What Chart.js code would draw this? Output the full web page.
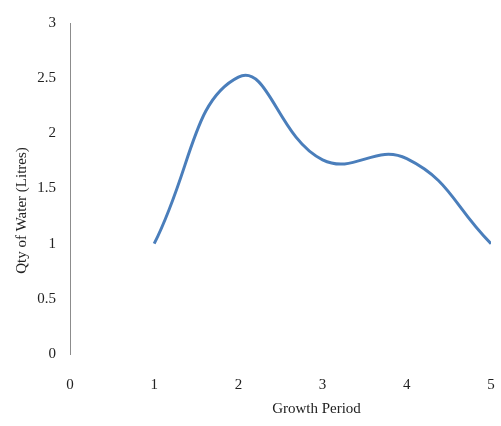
<!DOCTYPE html>
<html>
<head>
<meta charset="utf-8">
<script src="https://cdn.jsdelivr.net/npm/chart.js@4.4.0/dist/chart.umd.min.js"></script>
<style>
  html, body { margin: 0; padding: 0; background: #fff; overflow: hidden; }
  canvas { display: block; }
</style>
</head>
<body>
<canvas id="waterChart" width="501" height="426"></canvas>
<script>
// Data
const growthPeriods = [1, 2, 3, 4, 5];
const waterLitres = [1, 2.51, 1.76, 1.77, 1];
const xTitle = 'Growth Period';
const yTitle = 'Qty of Water (Litres)';

const points = growthPeriods.map((p, i) => ({ x: p, y: waterLitres[i] }));

const serif = '"Liberation Serif", "Times New Roman", serif';

// axis titles drawn by hand, Excel puts them a bit off-centre
const axisTitles = {
    id: 'axisTitles',
    afterDraw(chart) {
        const ctx = chart.ctx;
        const area = chart.chartArea;
        ctx.save();
        ctx.fillStyle = '#222';
        ctx.font = '15px ' + serif;
        ctx.textAlign = 'center';
        ctx.textBaseline = 'middle';
        ctx.fillText(xTitle, (area.left + area.right) / 2 + 36, 409);
        ctx.translate(22, (area.top + area.bottom) / 2 + 22);
        ctx.rotate(-Math.PI / 2);
        ctx.fillText(yTitle, 0, 0);
        ctx.restore();
    }
};

const ctxWater = document.getElementById('waterChart').getContext('2d');
const waterChart = new Chart(ctxWater, {
    type: 'line',
    data: {
        datasets: [{
            data: points,
            borderColor: '#4a7ebb',
            borderWidth: 3,
            pointRadius: 0,
            tension: 0.45,
            fill: false
        }]
    },
    options: {
        responsive: false,
        animation: false,
        layout: { padding: { top: 18, right: 10, left: 0, bottom: 0 } },
        plugins: {
            legend: { display: false },
            tooltip: { enabled: false }
        },
        scales: {
            x: {
                type: 'linear',
                min: 0,
                max: 5,
                grid: { display: false, drawTicks: false },
                border: { display: false },
                ticks: { stepSize: 1, padding: 22, color: '#222', font: { family: serif, size: 15 } },
                afterFit: (scale) => {
                    scale.height = 72;
                    // tick padding also gets added sideways, drop it
                    scale.paddingLeft = 4;
                    scale.paddingRight = 4;
                }
            },
            y: {
                min: 0,
                max: 3,
                grid: { display: false, drawTicks: false },
                border: { display: true, color: '#8c8c8c', width: 1 },
                ticks: {
                    stepSize: 0.5,
                    padding: 14,
                    color: '#222',
                    font: { family: serif, size: 15 },
                    callback: (v) => String(v)
                },
                afterFit: (scale) => { scale.width = 70; }
            }
        }
    },
    plugins: [axisTitles]
});
</script>
</body>
</html>
